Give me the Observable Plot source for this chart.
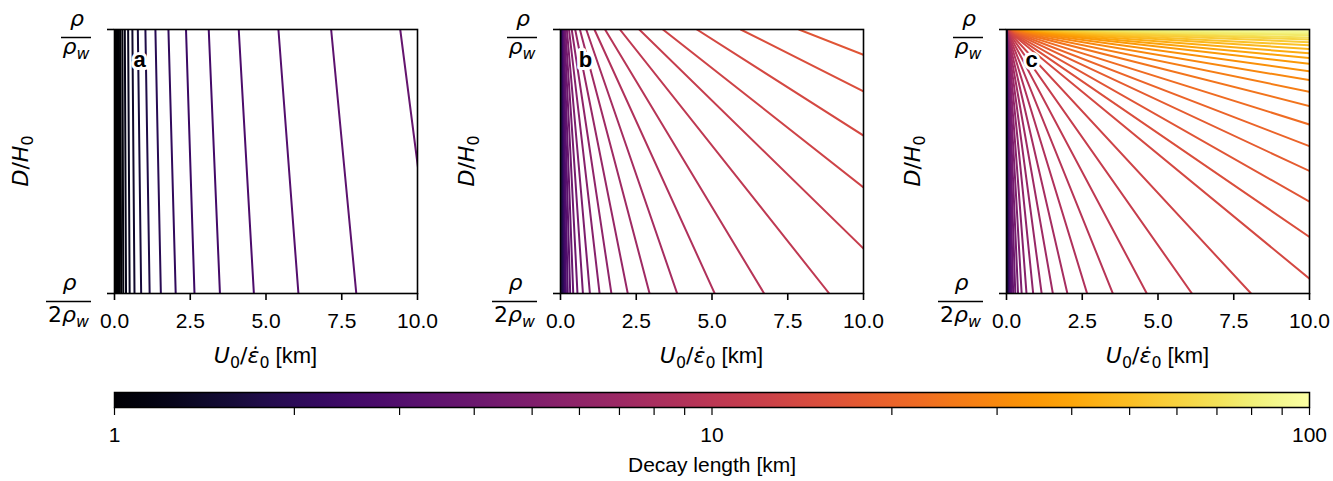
<!DOCTYPE html>
<html><head><meta charset="utf-8">
<script src="https://cdn.jsdelivr.net/npm/d3@7"></script>
<script src="https://cdn.jsdelivr.net/npm/@observablehq/plot@0.6"></script>
<style>
body{margin:0;background:#fff;}
#wrap{position:relative;width:1333px;height:481px;overflow:hidden;background:#fff;}
.pnl{position:absolute;top:0;}
</style></head><body><div id="wrap"></div>
<script>
// ---------- data ----------
const xTicks = [0, 2.5, 5, 7.5, 10];
const xTickLabels = ["0.0", "2.5", "5.0", "7.5", "10.0"];
const yDomain = [0.5, 1];            // D/H0 in units of rho/rho_w
const yTicks = [0.5, 1];
const panelLetters = ["a", "b", "c"];
const cbTicks = [1,2,3,4,5,6,7,8,9,10,20,30,40,50,60,70,80,90,100];
const cbTickLabels = {1: "1", 10: "10", 100: "100"};
const cbLabel = "Decay length [km]";

// panel a: contour level, x at D/H0 = rho/rho_w (top), x at rho/(2 rho_w) (bottom)
const aLevel = [0.56,0.62,0.68,0.75,0.83,0.91,1.0,1.099,1.207,1.326,1.456,1.6,1.758,1.931,2.121,2.33,2.56,2.812,3.089,3.393,3.728];
const aTopX  = [0.036,0.048,0.063,0.083,0.11,0.145,0.19,0.26,0.34,0.45,0.59,0.77,1.02,1.35,1.78,2.36,3.11,4.10,5.41,7.15,9.43];
const aBotX  = [0.040,0.054,0.071,0.094,0.125,0.163,0.22,0.29,0.38,0.50,0.66,0.88,1.16,1.53,2.02,2.64,3.48,4.60,6.07,7.98,10.55];

// panel b: level, x at top, end point (x, y)
const bLevel = [16.77,15.26,13.89,12.65,11.51,10.48,9.541,8.685,7.906,7.197,6.551,5.964,5.429,4.942,4.498,4.095,3.728,3.393,3.089,2.812,2.56,2.33,2.121,1.931,1.758];
const bTopX  = [7.87,5.95,4.50,3.38,2.60,1.96,1.47,1.12,0.85,0.64,0.485,0.37,0.28,0.21,0.16,0.122,0.092,0.07,0.053,0.040,0.030,0.023,0.017,0.013,0.010];
const bEndX  = [10,10,10,10,10,8.87,6.72,5.09,3.85,2.94,2.22,1.68,1.29,0.97,0.74,0.56,0.42,0.32,0.24,0.18,0.138,0.105,0.08,0.06,0.045];
const bEndY  = [0.952,0.883,0.799,0.701,0.585,0.5,0.5,0.5,0.5,0.5,0.5,0.5,0.5,0.5,0.5,0.5,0.5,0.5,0.5,0.5,0.5,0.5,0.5,0.5,0.5];

// panel c: level, end point (x, y); all start at top-left corner (0, rho/rho_w)
const cLevel = [100,91.03,82.86,75.43,68.66,62.51,56.90,51.79,47.15,42.92,39.07,35.56,32.37,29.47,26.83,24.42,22.23,20.24,18.42,16.77,15.26,13.89,
                12.65,11.51,10.48,9.541,8.685,7.906,7.197,6.551,5.964,5.429,4.942,4.498,4.095,3.728,3.393,3.089,2.812,2.56,2.33,2.121,1.931,1.758,1.6,1.456];
const cEndX  = [10,10,10,10,10,10,10,10,10,10,10,10,10,10,10,10,10,10,10,10,10,10,
                8.07,6.12,4.63,3.51,2.66,2.01,1.53,1.16,0.88,0.66,0.50,0.38,0.29,0.22,0.165,0.125,0.095,0.072,0.055,0.042,0.032,0.024,0.018,0.014];
const cEndY  = [0.997,0.995,0.992,0.989,0.985,0.981,0.976,0.970,0.963,0.955,0.946,0.935,0.921,0.904,0.882,0.855,0.820,0.779,0.732,0.674,0.607,0.528,
                0.5,0.5,0.5,0.5,0.5,0.5,0.5,0.5,0.5,0.5,0.5,0.5,0.5,0.5,0.5,0.5,0.5,0.5,0.5,0.5,0.5,0.5,0.5,0.5];

// ---------- build line tables ----------
function seg(level, x0, y0, x1, y1) {
  const out = [];
  level.forEach((L, i) => {
    out.push({id: i, level: L, x: x0[i], y: y0[i]});
    out.push({id: i, level: L, x: x1[i], y: y1[i]});
  });
  return out;
}
const yTop = yDomain[1], yBot = yDomain[0];
const linesA = seg(aLevel, aTopX, aLevel.map(() => yTop), aBotX, aLevel.map(() => yBot));
const linesB = seg(bLevel, bTopX, bLevel.map(() => yTop), bEndX, bEndY);
const linesC = seg(cLevel, cLevel.map(() => 0), cLevel.map(() => yTop), cEndX, cEndY);

const FONT = '"Liberation Sans", Arial, sans-serif';
const MATH = '"DejaVu Sans", sans-serif';
const wrap = document.getElementById("wrap");
const colorOpts = {type: "log", domain: [1, 100], scheme: "inferno", clamp: true};

function mathText(sel, parts, size, subScale = 0.72, subShift = 0.24) {
  let shifted = 0;
  parts.forEach(([t, o = {}]) => {
    const ts = sel.append("tspan").text(t)
      .attr("font-family", o.font || MATH)
      .attr("font-style", o.italic ? "italic" : "normal")
      .attr("font-size", o.sub ? size * subScale : (o.size || size));
    const want = o.sub ? size * subShift : 0;
    if (want !== shifted) { ts.attr("dy", want - shifted); shifted = want; }
  });
}

function panel(lines, letter, left) {
  const chart = Plot.plot({
    width: 441, height: 380,
    marginLeft: 114, marginRight: 24, marginTop: 29, marginBottom: 87,
    style: {fontFamily: FONT, fontSize: "21px", background: "transparent", color: "black", overflow: "visible"},
    x: {domain: [0, 10]},
    y: {domain: yDomain},
    color: colorOpts,
    marks: [
      Plot.line(lines, {x: "x", y: "y", z: "id", stroke: "level", strokeWidth: 2, clip: true}),
      Plot.frame({stroke: "black", strokeWidth: 1.6}),
      Plot.axisX({ticks: xTicks, tickFormat: d => xTickLabels[xTicks.indexOf(d)], tickSize: 7, tickPadding: 13, label: null, strokeWidth: 1.6}),
      Plot.axisY({ticks: yTicks, tickFormat: () => "", tickSize: 7, label: null, strokeWidth: 1.6}),
      Plot.text([letter], {text: d => d, frameAnchor: "top-left", dx: 25, dy: 30, textAnchor: "middle", lineAnchor: "middle",
        fontWeight: "bold", fontSize: 22, fill: "black", stroke: "white", strokeWidth: 6})
    ]
  });
  chart.classList.add("pnl");
  chart.style.left = left + "px";
  wrap.appendChild(chart);

  const sx = chart.scale("x"), sy = chart.scale("y");
  const fl = sx.apply(0), fr = sx.apply(10), ft = sy.apply(yTop), fb = sy.apply(yBot);
  const svg = d3.select(chart);
  const g = svg.append("g").attr("fill", "black");

  const fracs = [
    {v: yTop, num: [["ρ", {italic: true}]], den: [["ρ", {italic: true}], ["w", {italic: true, sub: true}]], w: 30, denDy: 24.5},
    {v: yBot, num: [["ρ", {italic: true}]], den: [["2"], ["ρ", {italic: true}], ["w", {italic: true, sub: true}]], w: 45, denDy: 28.7}
  ];
  fracs.forEach(f => {
    const ty = sy.apply(f.v);
    const right = fl - 23;
    const cx = right - f.w / 2;
    g.append("line").attr("x1", right - f.w).attr("x2", right).attr("y1", ty + 8.5).attr("y2", ty + 8.5)
      .attr("stroke", "black").attr("stroke-width", 1.5);
    mathText(g.append("text").attr("x", cx + 1).attr("y", ty - 3).attr("text-anchor", "middle"), f.num, 22);
    mathText(g.append("text").attr("x", cx).attr("y", ty + f.denDy).attr("text-anchor", "middle"), f.den, 22);
  });

  mathText(g.append("text").attr("x", (fl + fr) / 2).attr("y", fb + 70).attr("text-anchor", "middle"),
    [["U", {italic: true}], ["0", {sub: true}], ["/"], ["ε\u0307", {italic: true}], ["0", {sub: true}], [" [km]", {font: FONT, size: 22}]], 22);
  mathText(g.append("text").attr("transform", `translate(${fl - 86},${(ft + fb) / 2}) rotate(-90)`).attr("text-anchor", "middle"),
    [["D", {italic: true}], ["/"], ["H", {italic: true}], ["0", {sub: true}]], 22);
}

panel(linesA, panelLetters[0], 0);
panel(linesB, panelLetters[1], 446);
panel(linesC, panelLetters[2], 892);

// ---------- colorbar ----------
const cb = Plot.plot({
  width: 1333, height: 101,
  marginLeft: 114, marginRight: 24, marginTop: 12, marginBottom: 74,
  style: {fontFamily: FONT, fontSize: "21px", background: "transparent", color: "black", overflow: "visible"},
  x: {type: "log", domain: [1, 100]},
  y: {domain: [0, 1], axis: null},
  marks: [
    Plot.frame({stroke: "black", strokeWidth: 1.5}),
    Plot.axisX({ticks: cbTicks, tickFormat: d => cbTickLabels[d] || "", tickSize: 8, tickPadding: 12, label: null, strokeWidth: 1.2}),
    Plot.text([cbLabel], {text: d => d, frameAnchor: "bottom", dy: 58, lineAnchor: "middle", fontSize: 21, fill: "black"})
  ]
});
cb.classList.add("pnl");
cb.style.top = "380px";
cb.style.left = "0px";
wrap.appendChild(cb);
{
  const svg = d3.select(cb);
  const defs = svg.insert("defs", ":first-child");
  const grad = defs.append("linearGradient").attr("id", "cbgrad")
    .attr("x1", "0").attr("x2", "1").attr("y1", "0").attr("y2", "0");
  d3.range(0, 41).forEach(i => grad.append("stop").attr("offset", i / 40).attr("stop-color", d3.interpolateInferno(i / 40)));
  const sx = cb.scale("x");
  const x0 = sx.apply(1), x1 = sx.apply(100);
  const r = document.createElementNS("http://www.w3.org/2000/svg", "rect");
  defs.node().after(r);
  d3.select(r).attr("x", x0).attr("y", 12).attr("width", x1 - x0).attr("height", 15).attr("fill", "url(#cbgrad)");
}
</script></body></html>
